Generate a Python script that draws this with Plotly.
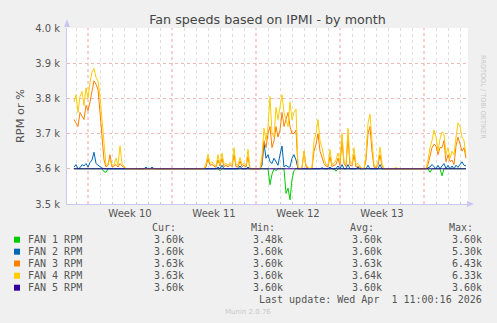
import plotly.graph_objects as go

# ---- data: fan speeds sampled every 4 hours (days relative to the Week 10 boundary) ----
t_start = -14 / 12      # first sample, in days
t_step = 1 / 6          # 4 hours

fan4_rpm = [
    3790, 3810, 3760, 3805, 3820, 3780, 3830, 3800, 3845, 3875,
    3885, 3860, 3850, 3805, 3740, 3660, 3610, 3615, 3625, 3610,
    3612, 3630, 3610, 3665, 3615, 3608, 3600, 3600, 3600, 3600,
    3600, 3600, 3600, 3600, 3600, 3600, 3600, 3600, 3600, 3600,
    3600, 3600, 3600, 3600, 3600, 3600, 3600, 3600, 3600, 3600,
    3600, 3600, 3600, 3600, 3600, 3600, 3600, 3600, 3600, 3600,
    3600, 3600, 3600, 3600, 3600, 3600, 3615, 3642, 3615, 3620,
    3612, 3608, 3640, 3612, 3645, 3612, 3615, 3610, 3618, 3612,
    3660, 3612, 3610, 3632, 3612, 3615, 3610, 3655, 3600, 3600,
    3600, 3600, 3600, 3600, 3640, 3715, 3680, 3720, 3805, 3700,
    3690, 3775, 3740, 3770, 3810, 3760, 3740, 3720, 3790, 3740,
    3760, 3770, 3605, 3600, 3605, 3650, 3610, 3605, 3600, 3605,
    3680, 3700, 3740, 3680, 3660, 3630, 3612, 3610, 3655, 3612,
    3615, 3625, 3645, 3620, 3700, 3620, 3612, 3715, 3620, 3615,
    3660, 3612, 3615, 3608, 3600, 3600, 3640, 3730, 3755, 3680,
    3610, 3605, 3620, 3662, 3615, 3600, 3600, 3600, 3600, 3600,
    3600, 3604, 3600, 3600, 3600, 3600, 3600, 3600, 3600, 3600,
    3600, 3600, 3600, 3600, 3600, 3600, 3600, 3625, 3660, 3680,
    3710, 3690, 3650, 3685, 3705, 3700, 3640, 3660, 3630, 3650,
    3640, 3690, 3730, 3720, 3690, 3680, 3640,
]

fan3_rpm = [
    3740, 3730, 3720, 3760, 3750, 3740, 3780, 3765, 3790, 3820,
    3850, 3840, 3825, 3760, 3700, 3625, 3605, 3610, 3640, 3605,
    3608, 3612, 3605, 3615, 3608, 3604, 3600, 3600, 3600, 3600,
    3600, 3600, 3600, 3600, 3600, 3600, 3600, 3600, 3600, 3600,
    3600, 3600, 3600, 3600, 3600, 3600, 3600, 3600, 3600, 3600,
    3600, 3600, 3600, 3600, 3600, 3600, 3600, 3600, 3600, 3600,
    3600, 3600, 3600, 3600, 3600, 3600, 3605, 3630, 3610, 3612,
    3608, 3604, 3625, 3608, 3630, 3606, 3610, 3605, 3612, 3606,
    3640, 3606, 3605, 3622, 3606, 3610, 3605, 3635, 3600, 3600,
    3600, 3600, 3600, 3600, 3620, 3680, 3660, 3700, 3720, 3660,
    3680, 3720, 3690, 3710, 3760, 3720, 3740, 3760, 3720, 3700,
    3700, 3710, 3602, 3600, 3602, 3650, 3605, 3602, 3600, 3602,
    3650, 3670, 3700, 3650, 3630, 3615, 3608, 3605, 3635, 3606,
    3610, 3612, 3630, 3610, 3680, 3615, 3606, 3690, 3610, 3608,
    3640, 3605, 3608, 3604, 3600, 3600, 3625, 3700, 3720, 3650,
    3605, 3602, 3610, 3640, 3608, 3600, 3600, 3600, 3600, 3600,
    3600, 3600, 3600, 3600, 3600, 3600, 3600, 3600, 3600, 3600,
    3600, 3600, 3600, 3600, 3600, 3600, 3600, 3612, 3640, 3660,
    3670, 3665, 3640, 3660, 3660, 3680, 3620, 3640, 3620, 3625,
    3612, 3665, 3690, 3670, 3650, 3660, 3630,
]

fan2_rpm = [
    3605, 3612, 3600, 3603, 3612, 3608, 3615, 3605, 3618, 3625,
    3647, 3615, 3610, 3605, 3602, 3600, 3600, 3600, 3600, 3600,
    3600, 3600, 3600, 3600, 3600, 3600, 3600, 3600, 3600, 3600,
    3600, 3600, 3600, 3600, 3600, 3600, 3605, 3600, 3600, 3605,
    3600, 3600, 3600, 3600, 3600, 3600, 3600, 3600, 3600, 3600,
    3600, 3600, 3600, 3600, 3600, 3600, 3600, 3600, 3600, 3600,
    3600, 3600, 3600, 3600, 3600, 3600, 3600, 3600, 3600, 3600,
    3600, 3600, 3605, 3600, 3610, 3600, 3600, 3600, 3600, 3600,
    3600, 3600, 3600, 3608, 3600, 3600, 3600, 3605, 3600, 3600,
    3600, 3600, 3600, 3600, 3610, 3672, 3630, 3640, 3620, 3615,
    3630, 3620, 3610, 3640, 3665, 3605, 3610, 3605, 3605, 3630,
    3640, 3625, 3600, 3600, 3600, 3600, 3600, 3600, 3600, 3600,
    3600, 3600, 3600, 3600, 3603, 3600, 3600, 3600, 3605, 3600,
    3600, 3600, 3608, 3600, 3612, 3600, 3600, 3612, 3600, 3600,
    3600, 3600, 3605, 3600, 3600, 3600, 3600, 3610, 3600, 3600,
    3600, 3600, 3600, 3612, 3600, 3600, 3600, 3600, 3600, 3600,
    3600, 3600, 3600, 3600, 3600, 3600, 3600, 3600, 3600, 3600,
    3600, 3600, 3600, 3600, 3600, 3600, 3600, 3603, 3605, 3612,
    3605, 3600, 3610, 3600, 3608, 3615, 3600, 3610, 3600, 3608,
    3600, 3610, 3604, 3612, 3620, 3610, 3608,
]

fan1_rpm = [
    3600, 3600, 3600, 3600, 3600, 3600, 3600, 3600, 3600, 3600,
    3600, 3600, 3600, 3600, 3600, 3592, 3590, 3600, 3600, 3600,
    3600, 3600, 3600, 3600, 3600, 3600, 3600, 3600, 3600, 3600,
    3600, 3600, 3600, 3600, 3600, 3600, 3600, 3600, 3600, 3600,
    3600, 3600, 3600, 3600, 3600, 3600, 3600, 3600, 3600, 3600,
    3600, 3600, 3600, 3600, 3600, 3600, 3600, 3600, 3600, 3600,
    3600, 3600, 3600, 3600, 3600, 3600, 3600, 3600, 3600, 3600,
    3600, 3600, 3600, 3595, 3600, 3600, 3600, 3600, 3600, 3600,
    3600, 3600, 3600, 3600, 3600, 3600, 3600, 3600, 3600, 3600,
    3600, 3600, 3600, 3600, 3600, 3600, 3600, 3600, 3555, 3585,
    3600, 3595, 3600, 3600, 3600, 3600, 3530, 3545, 3512, 3570,
    3595, 3600, 3600, 3600, 3600, 3600, 3600, 3600, 3600, 3600,
    3600, 3600, 3600, 3600, 3600, 3600, 3600, 3600, 3600, 3600,
    3600, 3593, 3600, 3600, 3600, 3600, 3600, 3600, 3600, 3600,
    3600, 3600, 3600, 3600, 3600, 3600, 3600, 3600, 3600, 3600,
    3600, 3600, 3600, 3600, 3600, 3600, 3600, 3600, 3600, 3600,
    3600, 3600, 3600, 3600, 3600, 3600, 3600, 3600, 3600, 3600,
    3600, 3600, 3600, 3600, 3600, 3600, 3600, 3600, 3590, 3600,
    3600, 3600, 3600, 3600, 3580, 3600, 3600, 3600, 3600, 3600,
    3600, 3600, 3600, 3600, 3600, 3600, 3600,
]

# fan 5 sits at a steady 3600 RPM the whole month
fan5_rpm = [3600] * len(fan1_rpm)

series_names = ["FAN 1 RPM", "FAN 2 RPM", "FAN 3 RPM", "FAN 4 RPM", "FAN 5 RPM"]
series_colors = ["#00CC00", "#0066B3", "#FF8000", "#FFCC00", "#330099"]
series_values = [fan1_rpm, fan2_rpm, fan3_rpm, fan4_rpm, fan5_rpm]

cur_vals = ["3.60k", "3.60k", "3.63k", "3.63k", "3.60k"]
min_vals = ["3.48k", "3.60k", "3.60k", "3.60k", "3.60k"]
avg_vals = ["3.60k", "3.60k", "3.63k", "3.64k", "3.60k"]
max_vals = ["3.60k", "5.30k", "6.43k", "6.33k", "3.60k"]

y_ticks = [3500, 3600, 3700, 3800, 3900, 4000]
y_tick_labels = ["3.5 k", "3.6 k", "3.7 k", "3.8 k", "3.9 k", "4.0 k"]
week_centers = [3.5, 10.5, 17.5, 24.5]
week_labels = ["Week 10", "Week 11", "Week 12", "Week 13"]
week_bounds = [0, 7, 14, 21, 28]
# daily grid lines, except where a week boundary is drawn
day_lines = [d for d in range(-1, 32) if d not in week_bounds]

days = [t_start + i * t_step for i in range(len(fan1_rpm))]

# ---- page geometry (pixels) ----
W, H = 497, 323
PL, PR, PT, PB = 67, 468, 28, 204


def px(x):
    return (x - PL) / (PR - PL)


def py(y):
    return (PB - y) / (PB - PT)


FONT = "DejaVu Sans"
MONO = "DejaVu Sans Mono"
TXT = "#555555"

fig = go.Figure()
for name, color, vals in zip(series_names, series_colors, series_values):
    fig.add_trace(go.Scatter(
        x=days, y=vals, name=name, mode="lines",
        line=dict(color=color, width=1), hoverinfo="skip",
    ))

shapes = []
# week boundaries
for wb in week_bounds:
    shapes.append(dict(type="line", xref="x", yref="paper", x0=wb, x1=wb, y0=0, y1=1,
                       line=dict(color="#F0A0A0", width=1, dash="dot"), layer="below"))
# axis arrows
shapes.append(dict(type="path", xref="paper", yref="paper",
                   path=f"M {px(64)} {py(27)} L {px(67)} {py(19)} L {px(70)} {py(27)} Z",
                   fillcolor="#C8C8F0", line=dict(width=0)))
shapes.append(dict(type="path", xref="paper", yref="paper",
                   path=f"M {px(467)} {py(201)} L {px(474)} {py(204)} L {px(467)} {py(207)} Z",
                   fillcolor="#C8C8F0", line=dict(width=0)))

annotations = []
# y axis title
annotations.append(dict(text="RPM or %", xref="paper", yref="paper", x=px(11.5), y=py(116),
                        textangle=-90, showarrow=False, font=dict(family=FONT, size=11.3, color=TXT)))
# side credit
annotations.append(dict(text="RRDTOOL / TOBI OETIKER", xref="paper", yref="paper",
                        x=px(489), y=py(53), textangle=90, showarrow=False,
                        font=dict(family=FONT, size=6.5, color="#C8C8C8")))

# legend table
header_x = [150, 248.5, 348, 447]
for hx, htxt in zip(header_x, ["Cur:", "Min:", "Avg:", "Max:"]):
    annotations.append(dict(text=htxt, xref="paper", yref="paper", x=px(hx), y=py(227),
                            xanchor="left", yanchor="middle", showarrow=False,
                            font=dict(family=MONO, size=10, color=TXT)))
col_right = [186, 285, 384, 484]
row_y = [239.7, 251.7, 263.5, 275.7, 287.7]
for k, name in enumerate(series_names):
    ry = row_y[k]
    shapes.append(dict(type="rect", xref="paper", yref="paper",
                       x0=px(14), x1=px(20), y0=py(ry + 3), y1=py(ry - 3),
                       fillcolor=series_colors[k], line=dict(width=0)))
    annotations.append(dict(text=name, xref="paper", yref="paper", x=px(25.5), y=py(ry),
                            xanchor="left", yanchor="middle", showarrow=False,
                            font=dict(family=MONO, size=10, color=TXT)))
    for cx, col in zip(col_right, [cur_vals, min_vals, avg_vals, max_vals]):
        annotations.append(dict(text=col[k], xref="paper", yref="paper", x=px(cx), y=py(ry),
                                xanchor="right", yanchor="middle", showarrow=False,
                                font=dict(family=MONO, size=10, color=TXT)))
annotations.append(dict(text="Last update: Wed Apr  1 11:00:16 2026".replace("  ", "&nbsp; "),
                        xref="paper", yref="paper", x=px(484), y=py(299.7),
                        xanchor="right", yanchor="middle", showarrow=False,
                        font=dict(family=MONO, size=10, color=TXT)))
annotations.append(dict(text="Munin 2.0.76", xref="paper", yref="paper", x=px(248), y=py(312),
                        xanchor="center", yanchor="middle", showarrow=False,
                        font=dict(family=FONT, size=7, color="#C8C8C8")))

fig.update_layout(
    width=W, height=H,
    margin=dict(l=PL, r=W - PR, t=PT, b=H - PB, pad=0),
    paper_bgcolor="#F0F0F0", plot_bgcolor="#FFFFFF",
    showlegend=False,
    title=dict(text="Fan speeds based on IPMI - by month", x=0.5, xref="paper",
               xanchor="center", y=1 - 19.5 / H, yanchor="middle",
               font=dict(family=FONT, size=12.7, color="#444444")),
    xaxis=dict(range=[-1.75, 31.667], tickmode="array", tickvals=week_centers,
               ticktext=week_labels, ticks="", showgrid=False, zeroline=False,
               showline=True, linecolor="#C8C8F0", linewidth=1,
               tickfont=dict(family=FONT, size=10, color=TXT),
               minor=dict(tickmode="array", tickvals=day_lines, showgrid=True,
                          gridcolor="#DDDDDD", griddash="dot", gridwidth=1,
                          ticks="inside", ticklen=2, tickcolor="#C8C8C8")),
    yaxis=dict(range=[3500, 4000], tickmode="array", tickvals=y_ticks,
               ticktext=y_tick_labels, ticks="", showgrid=True, gridcolor="#F0B8B8",
               griddash="dot", gridwidth=1, zeroline=False, showline=True,
               linecolor="#C8C8F0", linewidth=1, ticklabelstandoff=4,
               tickfont=dict(family=FONT, size=10, color=TXT)),
    shapes=shapes,
    annotations=annotations,
)

fig.write_html("out.html")
